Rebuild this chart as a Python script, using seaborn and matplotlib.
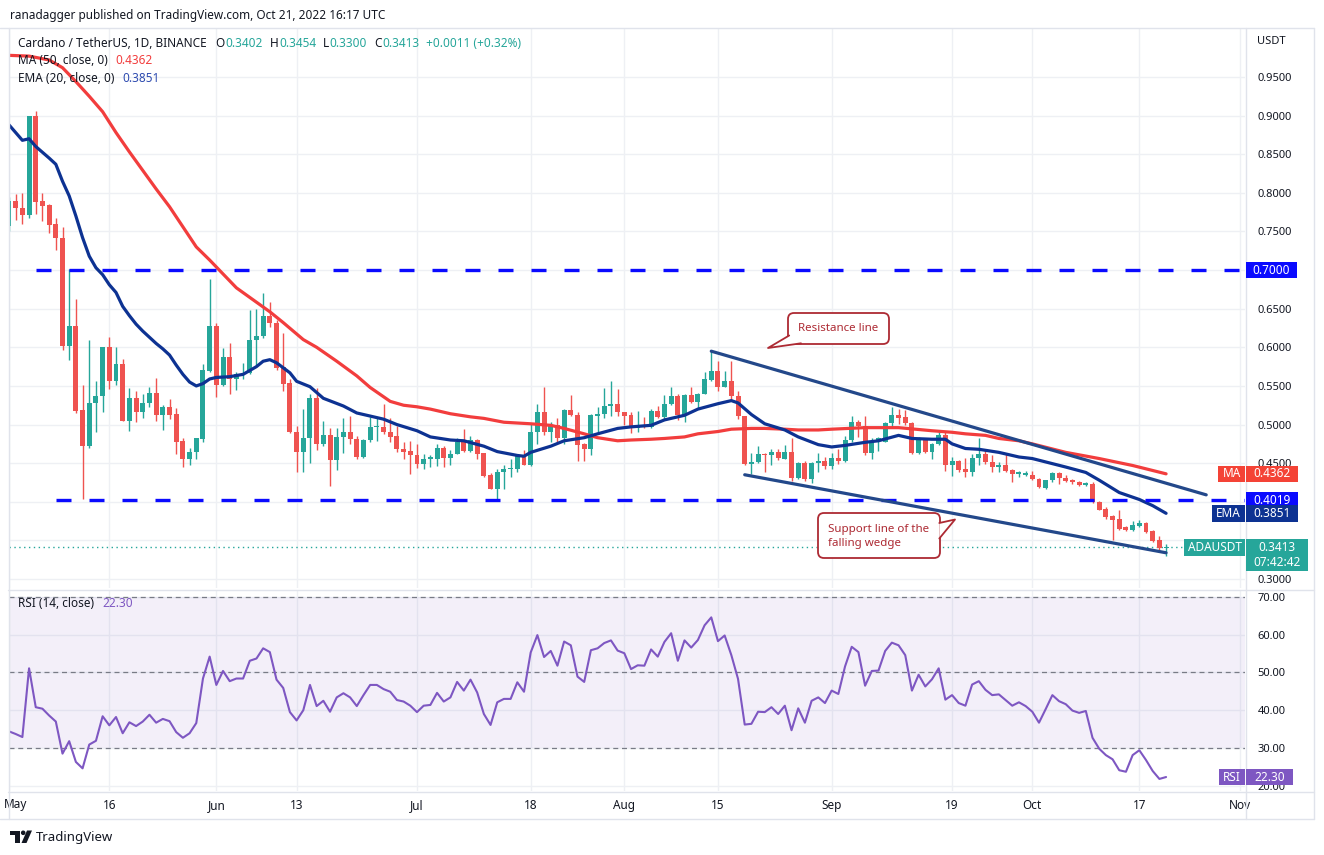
import numpy as np
import pandas as pd
import matplotlib
matplotlib.use("Agg")
import matplotlib.pyplot as plt
import matplotlib.dates as mdates
from matplotlib.patches import Rectangle, Polygon, FancyBboxPatch, Circle
from matplotlib.lines import Line2D
from matplotlib.transforms import IdentityTransform
import seaborn as sns

W, H = 1324, 855

# ------------------------------
# Data (ADA/USDT daily, May 1 - Oct 21 2022)
# ------------------------------
first_day = "2022-05-01"

opens = [
    .757, .790, .781, .771, .899, .789, .784, .760, .741, .602, .628, .519, .472, .528, .537, .600,
    .557, .578, .505, .534, .516, .528, .541, .512, .523, .514, .479, .455, .464, .481, .569,
    .628, .551, .587, .559, .565, .567, .609, .615, .641, .632, .574, .554, .490, .464, .483, .535,
    .475, .487, .454, .484, .491, .481, .458, .480, .497, .497, .490, .485, .469, .466,
    .461, .449, .456, .456, .470, .457, .462, .478, .466, .480, .463, .435, .416, .439, .442, .442,
    .459, .447, .490, .516, .491, .500, .483, .519, .513, .475, .468, .511, .514, .524, .527,
    .516, .512, .495, .499, .497, .518, .510, .527, .537, .512, .538, .529, .540, .558, .569, .549,
    .556, .537, .511, .449, .451, .462, .461, .465, .456, .464, .431, .450, .429, .450, .453,
    .446, .457, .453, .480, .503, .498, .463, .479, .478, .502, .512, .510, .502, .463, .481, .465,
    .475, .487, .447, .453, .442, .438, .457, .462, .451, .445, .448, .441, .436, .435,
    .435, .430, .418, .428, .437, .431, .428, .425, .422, .423, .400, .391, .382, .378, .367, .363,
    .369, .373, .362, .350, .3402,
]
highs = [
    .795, .798, .800, .900, .906, .800, .786, .767, .756, .701, .663, .551, .609, .557, .601, .614,
    .600, .585, .547, .544, .539, .548, .560, .525, .533, .521, .483, .470, .482, .578, .689,
    .631, .599, .605, .568, .580, .648, .650, .670, .659, .636, .618, .559, .498, .520, .539, .547,
    .504, .495, .495, .508, .511, .485, .481, .510, .510, .526, .508, .498, .477, .479,
    .475, .462, .461, .475, .472, .467, .483, .494, .485, .481, .463, .437, .443, .447, .455, .460,
    .467, .501, .527, .549, .503, .509, .520, .538, .516, .476, .514, .523, .547, .557, .546,
    .516, .516, .518, .510, .520, .524, .538, .549, .539, .539, .548, .541, .568, .595, .582, .569,
    .582, .544, .511, .463, .472, .463, .469, .469, .474, .482, .452, .453, .452, .463, .458,
    .463, .468, .485, .511, .506, .511, .482, .484, .503, .523, .520, .519, .503, .484, .482, .476,
    .490, .490, .458, .454, .457, .462, .482, .468, .460, .451, .463, .443, .440, .440,
    .440, .431, .428, .438, .438, .435, .430, .427, .425, .425, .401, .393, .383, .390, .369, .375,
    .376, .374, .363, .356, .3454,
]
lows = [
    .750, .765, .760, .768, .772, .763, .748, .726, .597, .584, .515, .403, .470, .490, .516, .546,
    .551, .504, .492, .503, .509, .523, .505, .493, .507, .462, .445, .448, .456, .478, .568,
    .536, .550, .539, .545, .559, .566, .577, .612, .626, .571, .543, .489, .438, .438, .450, .467,
    .472, .421, .441, .463, .475, .456, .457, .477, .479, .488, .477, .465, .455, .436,
    .444, .442, .445, .446, .445, .448, .462, .464, .464, .456, .432, .416, .403, .417, .432, .439,
    .447, .446, .475, .487, .478, .478, .475, .511, .453, .453, .460, .490, .508, .511, .511,
    .500, .489, .490, .495, .496, .509, .507, .525, .506, .503, .528, .522, .539, .556, .544, .548,
    .531, .507, .447, .436, .450, .438, .447, .454, .456, .427, .429, .427, .424, .439, .443,
    .443, .449, .452, .478, .484, .461, .456, .466, .478, .497, .501, .499, .462, .462, .463, .455,
    .474, .440, .434, .439, .432, .434, .448, .449, .439, .438, .438, .426, .432, .433,
    .428, .418, .416, .426, .423, .425, .423, .421, .420, .399, .389, .378, .351, .363, .362, .362,
    .367, .360, .348, .338, .3300,
]
closes = [
    .789, .780, .771, .899, .788, .783, .759, .741, .602, .628, .518, .472, .528, .537, .600, .557,
    .578, .505, .534, .516, .528, .541, .512, .523, .513, .478, .455, .465, .482, .570, .628,
    .551, .587, .559, .566, .567, .609, .615, .641, .631, .573, .553, .490, .464, .483, .535, .475,
    .487, .454, .484, .491, .481, .458, .480, .497, .498, .490, .484, .468, .465, .460,
    .449, .456, .458, .470, .457, .462, .478, .466, .480, .462, .434, .416, .439, .442, .444, .459,
    .447, .491, .516, .491, .500, .483, .519, .513, .474, .468, .512, .514, .524, .527, .516,
    .511, .495, .499, .497, .518, .510, .527, .537, .512, .538, .529, .540, .559, .569, .549, .556,
    .537, .511, .449, .451, .462, .461, .465, .457, .464, .431, .450, .429, .450, .453, .446,
    .457, .453, .480, .503, .498, .463, .479, .482, .502, .512, .509, .502, .463, .481, .465, .475,
    .487, .447, .453, .441, .438, .457, .462, .451, .445, .448, .440, .436, .438, .437,
    .429, .419, .428, .437, .431, .427, .425, .422, .424, .400, .390, .380, .376, .365, .363, .370,
    .373, .361, .349, .340, .3413,
]
rsi = [
    34.4, 33.7, 32.9, 51.1, 40.8, 40.4, 38.6, 37.0, 28.5, 31.8, 26.3, 24.6, 30.9, 31.9, 38.4, 36.0,
    38.2, 33.9, 36.8, 35.8, 37.0, 38.8, 36.7, 37.7, 37.1, 34.2, 32.7, 33.9, 36.6, 48.4, 54.2,
    46.7, 50.4, 47.7, 48.4, 48.4, 53.1, 53.7, 56.4, 55.4, 48.1, 45.9, 39.5, 37.3, 40.0, 46.7, 41.1,
    42.5, 39.6, 43.4, 44.5, 43.4, 41.1, 44.0, 46.7, 46.7, 45.6, 44.9, 42.7, 42.3, 41.2,
    39.5, 41.2, 41.4, 44.6, 42.3, 43.4, 47.5, 45.2, 48.1, 44.7, 39.0, 36.1, 42.1, 43.0, 43.0, 47.4,
    44.9, 55.3, 59.9, 54.1, 55.7, 51.8, 58.2, 57.2, 48.9, 47.5, 55.9, 56.4, 57.8, 58.5, 55.8,
    55.1, 50.9, 51.9, 51.8, 56.1, 54.2, 58.1, 60.4, 53.1, 58.5, 56.6, 58.6, 62.5, 64.6, 58.3, 59.8,
    54.6, 48.3, 36.2, 36.4, 39.6, 39.5, 40.8, 39.0, 41.2, 34.7, 40.5, 36.7, 42.5, 43.4, 41.9,
    45.2, 44.3, 51.6, 56.8, 55.4, 46.5, 50.4, 50.5, 55.7, 57.9, 57.2, 54.6, 45.2, 49.4, 46.3, 48.2,
    51.1, 42.8, 44.0, 41.9, 41.2, 46.8, 47.7, 45.4, 44.0, 44.2, 42.7, 41.2, 42.1, 41.1,
    39.6, 36.7, 40.3, 44.0, 42.4, 41.6, 39.9, 39.3, 39.8, 32.7, 29.8, 28.1, 27.0, 24.1, 23.7, 28.1,
    29.4, 26.8, 23.9, 21.8, 22.3,
]

# moving averages
ma50_dates = [
    "05-01", "05-04", "05-07", "05-09", "05-11", "05-13", "05-15", "05-17", "05-19", "05-21",
    "05-23", "05-25", "05-27", "05-29", "05-31", "06-01", "06-04", "06-09", "06-11", "06-14",
    "06-16", "06-19", "06-22", "06-24", "06-27", "06-29", "07-01", "07-03", "07-06", "07-09",
    "07-11", "07-14", "07-16", "07-18", "07-21", "07-23", "07-26", "07-28", "07-31", "08-02",
    "08-05", "08-07", "08-10", "08-12", "08-15", "08-17", "08-20", "08-22", "08-25", "08-27",
    "08-30", "09-01", "09-06", "09-11", "09-16", "09-19", "09-21", "09-24", "09-26", "09-29",
    "10-01", "10-06", "10-11", "10-16", "10-21",
]
ma50_vals = [
    0.978, 0.977, 0.972, 0.962, 0.944, 0.925, 0.905, 0.878, 0.853, 0.829,
    0.805, 0.782, 0.756, 0.730, 0.713, 0.704, 0.677, 0.646, 0.632, 0.610,
    0.600, 0.582, 0.563, 0.548, 0.530, 0.525, 0.523, 0.520, 0.514, 0.510,
    0.508, 0.503, 0.502, 0.501, 0.499, 0.495, 0.488, 0.483, 0.479, 0.480,
    0.481, 0.482, 0.484, 0.488, 0.491, 0.494, 0.495, 0.495, 0.494, 0.493,
    0.493, 0.494, 0.496, 0.496, 0.492, 0.490, 0.488, 0.486, 0.482, 0.479,
    0.475, 0.464, 0.456, 0.447, 0.4362,
]
ema20_dates = [
    "05-01", "05-03", "05-04", "05-05", "05-07", "05-08", "05-09", "05-10", "05-11", "05-12",
    "05-13", "05-14", "05-15", "05-16", "05-17", "05-18", "05-19", "05-20", "05-21", "05-22",
    "05-23", "05-24", "05-25", "05-26", "05-27", "05-28", "05-29", "05-30", "05-31", "06-01",
    "06-03", "06-05", "06-07", "06-08", "06-09", "06-10", "06-12", "06-13", "06-15", "06-17",
    "06-20", "06-22", "06-24", "06-26", "06-28", "07-01", "07-03", "07-06", "07-08", "07-11",
    "07-13", "07-16", "07-17", "07-18", "07-21", "07-23", "07-26", "07-28", "07-31", "08-02",
    "08-05", "08-07", "08-10", "08-12", "08-15", "08-17", "08-18", "08-20", "08-22", "08-25",
    "08-27", "08-30", "09-01", "09-03", "09-06", "09-08", "09-11", "09-13", "09-16", "09-18",
    "09-19", "09-21", "09-23", "09-26", "09-29", "10-01", "10-06", "10-09", "10-11", "10-14",
    "10-17", "10-19", "10-21",
]
ema20_vals = [
    0.888, 0.868, 0.870, 0.860, 0.845, 0.837, 0.815, 0.796, 0.770, 0.742,
    0.718, 0.703, 0.694, 0.681, 0.671, 0.653, 0.641, 0.630, 0.621, 0.613,
    0.605, 0.598, 0.590, 0.577, 0.565, 0.555, 0.550, 0.553, 0.559, 0.561,
    0.562, 0.565, 0.575, 0.582, 0.584, 0.580, 0.567, 0.556, 0.549, 0.534,
    0.524, 0.515, 0.511, 0.507, 0.500, 0.492, 0.484, 0.480, 0.479, 0.472,
    0.465, 0.460, 0.459, 0.464, 0.472, 0.479, 0.483, 0.488, 0.495, 0.497,
    0.499, 0.506, 0.512, 0.520, 0.527, 0.531, 0.528, 0.513, 0.501, 0.493,
    0.484, 0.474, 0.471, 0.473, 0.477, 0.479, 0.486, 0.482, 0.481, 0.481,
    0.475, 0.469, 0.468, 0.464, 0.458, 0.456, 0.445, 0.438, 0.428, 0.412,
    0.403, 0.395, 0.3851,
]

# drawings on the chart
levels = [0.7000, 0.4019]
level_starts = ["2022-05-05", "2022-05-08"]
resist_dates = ["2022-08-14", "2022-10-27"]
resist_vals = [0.595, 0.409]
support_dates = ["2022-08-19", "2022-10-21"]
support_vals = [0.435, 0.334]
last_price = 0.3413
last_rsi = 22.30

xtick_dates = ["2022-05-01", "2022-05-16", "2022-06-01", "2022-06-13", "2022-07-01", "2022-07-18",
               "2022-08-01", "2022-08-15", "2022-09-01", "2022-09-19", "2022-10-01", "2022-10-17",
               "2022-11-01"]
xtick_labels = ["May", "16", "Jun", "13", "Jul", "18", "Aug", "15", "Sep", "19", "Oct", "17", "Nov"]
price_ticks = [0.30, 0.35, 0.40, 0.45, 0.50, 0.55, 0.60, 0.65, 0.70, 0.75, 0.80, 0.85, 0.90, 0.95]
hidden_price_ticks = [0.35, 0.40, 0.70]   # covered by the tags on the scale
rsi_ticks = [20, 30, 40, 50, 60, 70]

# ------------------------------
# Colours
# ------------------------------
TEAL = "#26a69a"
RED = "#ef5350"
MA_RED = "#f23d3d"
EMA_BLUE = "#0d3292"
TREND = "#23488a"
LEVEL_BLUE = "#0a0aff"
PURPLE = "#7e57c2"
TXT = "#131722"
GRID = "#eef0f4"
FRAME = "#e0e3eb"
CALLOUT = "#ad2a33"

df = pd.DataFrame({
    "date": pd.date_range(first_day, periods=len(closes), freq="D"),
    "open": opens, "high": highs, "low": lows, "close": closes, "rsi": rsi,
})
df["x"] = mdates.date2num(df["date"])


def md(days):
    return mdates.date2num(pd.to_datetime(["2022-" + d for d in days]))


def dn(days):
    return mdates.date2num(pd.to_datetime(days))


# ------------------------------
# Figure
# ------------------------------
sns.set_theme(style="white")
plt.rcParams["font.family"] = ["Noto Sans", "DejaVu Sans"]

fig = plt.figure(figsize=(W / 100, H / 100), dpi=100)
fig.patch.set_facecolor("white")
ax = fig.add_axes([9 / W, 1 - 588 / H, 1236 / W, 560 / H])
ax_rsi = fig.add_axes([9 / W, 1 - 791 / H, 1236 / W, 201 / H], sharex=ax)
PIX = IdentityTransform()

x_left = mdates.date2num(pd.Timestamp("2022-05-16")) - 14.95
x_right = mdates.date2num(pd.Timestamp("2022-05-16")) + 169.8

for a in (ax, ax_rsi):
    for s in a.spines.values():
        s.set_visible(False)
    a.set_facecolor("white")
    a.set_axisbelow(True)
    a.grid(True, color=GRID, lw=1)
    a.yaxis.tick_right()
    a.tick_params(axis="both", length=0, labelsize=8, labelcolor=TXT)
    a.tick_params(axis="y", pad=9)

ax.set_xlim(x_left, x_right)
ax.set_ylim(0.2884, 1.0134)
ax.set_yticks(price_ticks)
ax.set_yticklabels(["" if any(abs(v - h) < 1e-9 for h in hidden_price_ticks) else f"{v:.4f}"
                    for v in price_ticks])
ax.set_xticks(dn(xtick_dates))
ax.tick_params(axis="x", labelbottom=False)

# candles
up = df["close"] >= df["open"]
cols = np.where(up, TEAL, RED)
ax.vlines(df["x"], df["low"], df["high"], colors=cols, lw=1, zorder=3)
body = (df["close"] - df["open"]).abs().clip(lower=0.0012)
ax.bar(df["x"], body, bottom=np.minimum(df["open"], df["close"]), width=0.74,
       color=cols, linewidth=0, zorder=4)

# indicator lines
sns.lineplot(x=md(ma50_dates), y=ma50_vals, ax=ax, color=MA_RED, lw=2.3, zorder=5)
sns.lineplot(x=md(ema20_dates), y=ema20_vals, ax=ax, color=EMA_BLUE, lw=2.3, zorder=6)

# drawings
for lv, st in zip(levels, level_starts):
    ax.plot([dn([st])[0], x_right], [lv, lv], color=LEVEL_BLUE, lw=2.4,
            dashes=(4.5, 5.4), solid_capstyle="butt", zorder=7)
sns.lineplot(x=dn(resist_dates), y=resist_vals, ax=ax, color=TREND, lw=2.3, zorder=7)
sns.lineplot(x=dn(support_dates), y=support_vals, ax=ax, color=TREND, lw=2.3, zorder=7)
ax.axhline(last_price, color=TEAL, lw=1, ls=(0, (1, 2.5)), zorder=2)

# RSI panel
ax_rsi.set_ylim(18.6, 71.85)
ax_rsi.set_yticks(rsi_ticks)
ax_rsi.set_yticklabels([f"{v:.2f}" for v in rsi_ticks])
ax_rsi.axhspan(30, 70, color=PURPLE, alpha=0.09, lw=0, zorder=1)
for lv in (30, 50, 70):
    ax_rsi.axhline(lv, color="#787b86", lw=0.9, ls=(0, (4, 3)), zorder=2)
sns.lineplot(x=df["x"], y=df["rsi"], ax=ax_rsi, color=PURPLE, lw=1.5, zorder=4)
ax_rsi.set_xticks(dn(xtick_dates))
# the first month label sits on the left edge, it is drawn separately below
ax_rsi.set_xticklabels([""] + xtick_labels[1:])
ax_rsi.tick_params(axis="x", pad=6, labelsize=8.5)
for a in (ax, ax_rsi):
    a.set_xlabel("")
    a.set_ylabel("")

# ------------------------------
# Frame lines
# ------------------------------
def hline_px(y, x0, x1):
    fig.add_artist(Line2D([x0, x1], [H - y, H - y], transform=PIX, color=FRAME, lw=1, zorder=9))


def vline_px(x, y0, y1):
    fig.add_artist(Line2D([x, x], [H - y0, H - y1], transform=PIX, color=FRAME, lw=1, zorder=9))


hline_px(27.5, 0, 1314)
hline_px(589.5, 8, 1314)
hline_px(791.5, 8, 1314)
hline_px(818.5, 0, 1314)
vline_px(1245.5, 27.5, 818.5)
vline_px(1313.5, 27.5, 818.5)
vline_px(8.5, 27.5, 818.5)

# ------------------------------
# Texts
# ------------------------------
renderer = fig.canvas.get_renderer()


def runs(x, y, parts, size=8.5):
    for txt, col, gap in parts:
        t = fig.text(x, H - y, txt, color=col, fontsize=size, ha="left", va="center",
                     transform=PIX, zorder=12)
        x = t.get_window_extent(renderer).x1 + gap


fig.text(10, H - 15, "ranadagger published on TradingView.com, Oct 21, 2022 16:17 UTC",
         color=TXT, fontsize=8.5, ha="left", va="center", transform=PIX)
runs(18, 43.5, [("Cardano / TetherUS, 1D, BINANCE", TXT, 9), ("O", TXT, 0.5), ("0.3402", TEAL, 7),
                ("H", TXT, 0.5), ("0.3454", TEAL, 7), ("L", TXT, 0.5), ("0.3300", TEAL, 7),
                ("C", TXT, 0.5), ("0.3413", TEAL, 7), ("+0.0011 (+0.32%)", TEAL, 0)])
runs(18, 60, [("MA (50, close, 0)", TXT, 8), ("0.4362", MA_RED, 0)])
runs(18, 78, [("EMA (20, close, 0)", TXT, 8), ("0.3851", "#2f4cb0", 0)])
runs(18, 603, [("RSI (14, close)", TXT, 8), ("22.30", PURPLE, 0)])
fig.text(1257, H - 41, "USDT", color=TXT, fontsize=8, ha="left", va="center", transform=PIX)
fig.text(4, H - 804, xtick_labels[0], color=TXT, fontsize=8.5, ha="left", va="center",
         transform=PIX)


# value tags on the right scale
def tag(x0, x1, yc, h, face, lines, size=8.5):
    fig.add_artist(Rectangle((x0, yc - h / 2), x1 - x0, h, transform=PIX, facecolor=face,
                             edgecolor="none", zorder=20))
    n = len(lines)
    for i, s in enumerate(lines):
        ty = yc + (n - 1) * 7.5 - i * 15
        fig.text((x0 + x1) / 2, ty, s, transform=PIX, ha="center", va="center", color="white",
                 fontsize=size, fontweight="bold", zorder=21)


def ypix(a, v):
    return a.transData.transform((x_left, v))[1]


tag(1246, 1297, ypix(ax, 0.70), 16, LEVEL_BLUE, ["0.7000"])
tag(1218, 1245, ypix(ax, 0.4362), 16, "#f44336", ["MA"])
tag(1246, 1298, ypix(ax, 0.4362), 16, "#f44336", ["0.4362"])
tag(1246, 1298, ypix(ax, 0.4019), 16, LEVEL_BLUE, ["0.4019"])
tag(1212, 1245, ypix(ax, 0.3851), 17, EMA_BLUE, ["EMA"])
tag(1246, 1298, ypix(ax, 0.3851), 17, EMA_BLUE, ["0.3851"])
tag(1184, 1245, ypix(ax, last_price), 17, TEAL, ["ADAUSDT"])
yc = ypix(ax, last_price)
tag(1246, 1308, yc - 7.5, 32, TEAL, ["0.3413", "07:42:42"])
tag(1219, 1245, ypix(ax_rsi, last_rsi), 16, PURPLE, ["RSI"])
tag(1246, 1293, ypix(ax_rsi, last_rsi), 16, PURPLE, ["22.30"])


# callouts
def callout(x0, y0, x1, y1, tail, lines, align="center"):
    fig.add_artist(FancyBboxPatch((x0, H - y1), x1 - x0, y1 - y0,
                                  boxstyle="round,pad=0,rounding_size=6", transform=PIX,
                                  facecolor="white", edgecolor=CALLOUT, lw=1.3, zorder=15))
    pts = [(px, H - py) for px, py in tail]
    fig.add_artist(Polygon(pts, closed=True, transform=PIX, facecolor="white",
                           edgecolor="none", zorder=16))
    fig.add_artist(Line2D([pts[0][0], pts[2][0], pts[1][0]], [pts[0][1], pts[2][1], pts[1][1]],
                          transform=PIX, color=CALLOUT, lw=1.3, zorder=17))
    for txt, tx, ty in lines:
        fig.text(tx, H - ty, txt, transform=PIX, color=CALLOUT, fontsize=8.3,
                 ha=align, va="center", zorder=18)


callout(788, 313, 889, 344, [(789.2, 335.5), (801, 343.3), (768, 348)],
        [("Resistance line", 838.5, 328.5)])
callout(818, 513, 940, 558, [(939.3, 523), (939.3, 538.5), (955, 519.5)],
        [("Support line of the", 828, 529.5), ("falling wedge", 828, 543)], align="left")

# TradingView logo at the bottom
logo_t = [(10, 830.5), (19.5, 830.5), (19.5, 843), (15, 843), (15, 835), (10, 835)]
fig.add_artist(Polygon([(px, H - py) for px, py in logo_t], closed=True, transform=PIX,
                       facecolor=TXT, edgecolor="none"))
fig.add_artist(Circle((23.2, H - 832.8), 2.3, transform=PIX, facecolor=TXT, edgecolor="none"))
logo_v = [(27, 830.5), (32, 830.5), (26.5, 843), (21.5, 843)]
fig.add_artist(Polygon([(px, H - py) for px, py in logo_v], closed=True, transform=PIX,
                       facecolor=TXT, edgecolor="none"))
fig.text(36, H - 837, "TradingView", color=TXT, fontsize=9.5, fontweight="bold",
         ha="left", va="center", transform=PIX)

fig.savefig("out.png", dpi=100, facecolor="white")
